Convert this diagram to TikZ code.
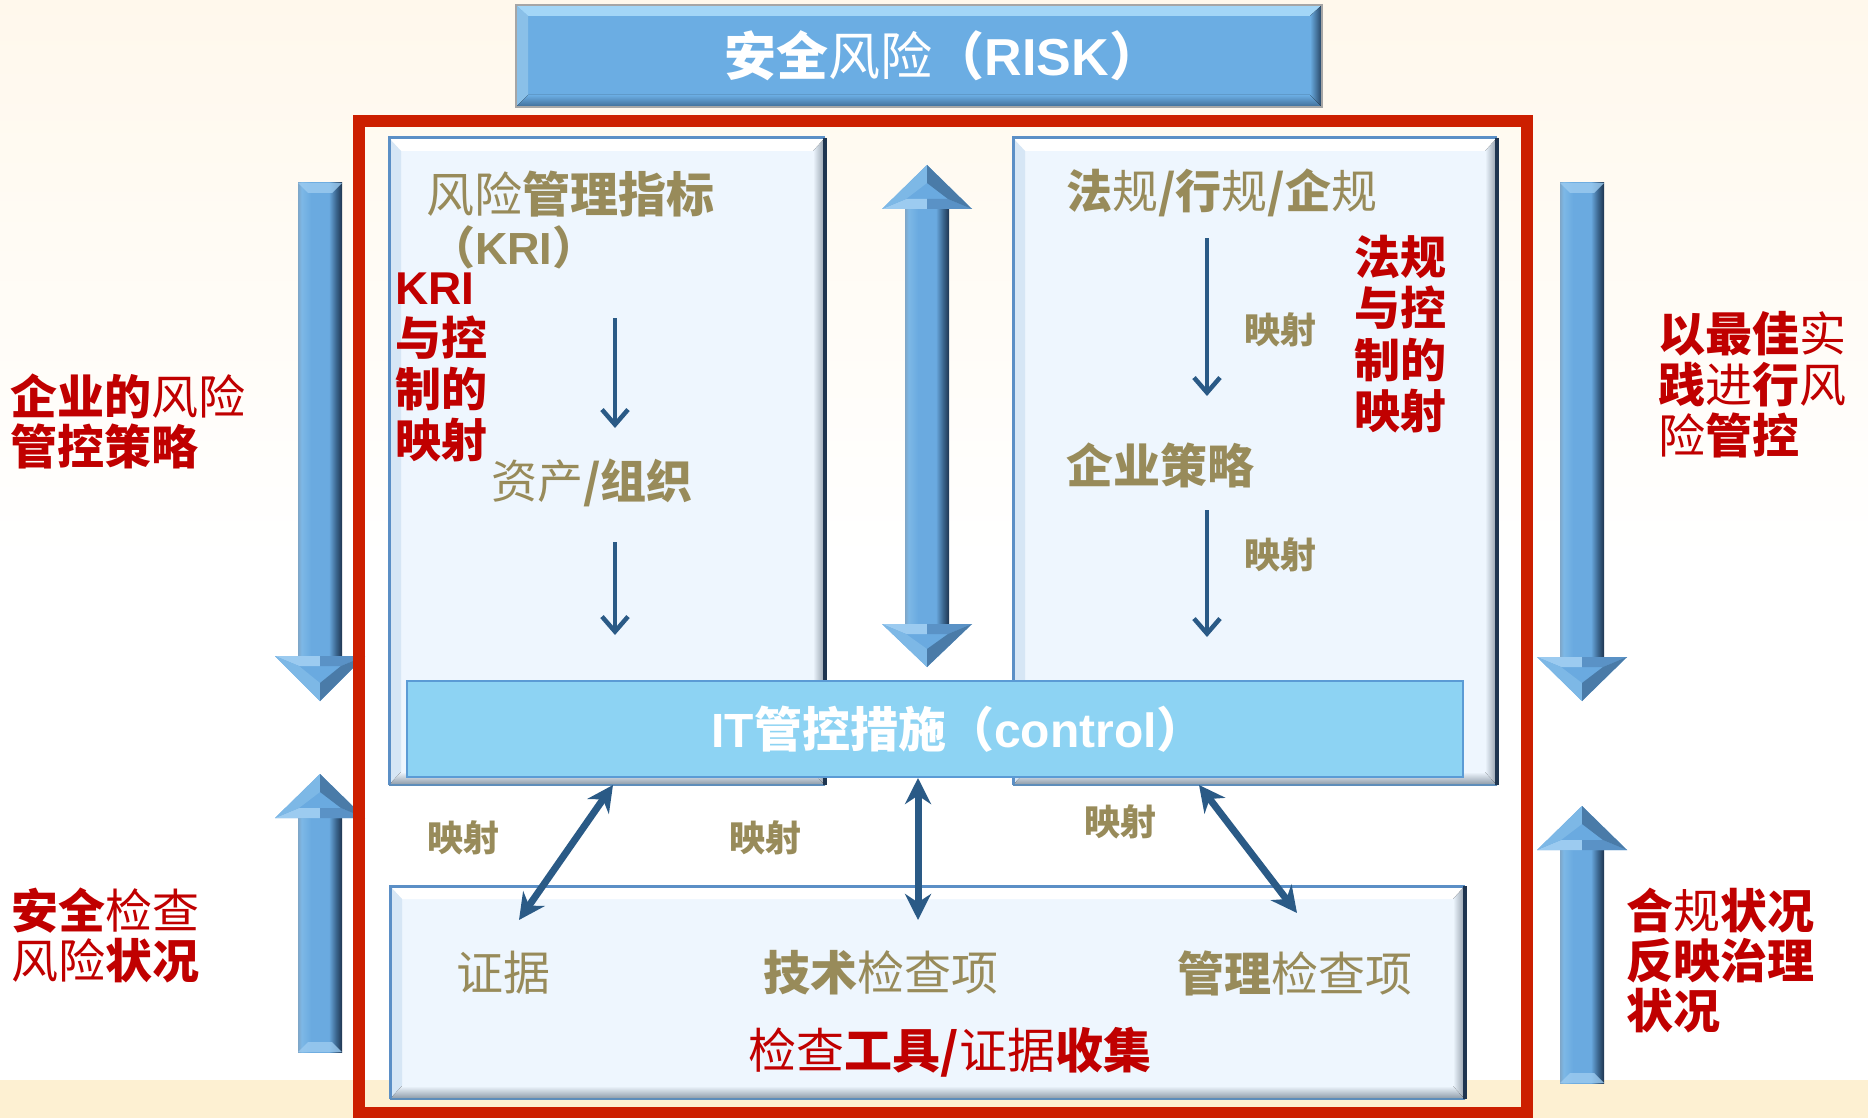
\documentclass[tikz,border=0pt]{standalone}
\usepackage{fontspec}
\setmainfont{Noto Sans CJK SC}
\newfontfamily\lat{Liberation Sans}
\usetikzlibrary{arrows.meta}

\definecolor{txtolive}{HTML}{988B5A}
\definecolor{txtred}{HTML}{C00000}
\definecolor{framered}{HTML}{CC1F00}
\definecolor{arrmain}{HTML}{6AAAE0}
\definecolor{arrlite}{HTML}{9CCBF0}
\definecolor{arrmidl}{HTML}{7DB8E6}
\definecolor{arrmidd}{HTML}{5A92C6}
\definecolor{arrface}{HTML}{4A7BA8}
\definecolor{arrdark}{HTML}{3C6790}
\definecolor{arrdeep}{HTML}{1E3550}
\definecolor{arrleft}{HTML}{7EA6C8}
\definecolor{thinblue}{HTML}{2A5A86}
\definecolor{boxfill}{HTML}{EEF6FE}
\definecolor{boxleft}{HTML}{D6E6F5}
\definecolor{boxbot}{HTML}{8A97A4}
\definecolor{boxright}{HTML}{8F9BA8}
\definecolor{boxedgeA}{HTML}{5B8FC6}
\definecolor{boxedgeB}{HTML}{5E8DBA}
\definecolor{boxedgeC}{HTML}{1F3550}
\definecolor{itfill}{HTML}{8DD3F3}
\definecolor{itborder}{HTML}{5B9BD5}
\definecolor{bannerfill}{HTML}{6BADE3}
\definecolor{bannertop}{HTML}{A3D6F7}
\definecolor{bannerleft}{HTML}{8AC0E8}
\definecolor{bannerbot}{HTML}{3F6C96}
\definecolor{bannerright}{HTML}{24405E}
\definecolor{bgtop}{HTML}{FFF8EC}
\definecolor{bgband}{HTML}{FDF0D2}

\newcommand\lightc[1]{{\mdseries #1}}

\pgfdeclarehorizontalshading{shaftshade}{100bp}{color(0bp)=(arrleft); color(25bp)=(arrleft); color(29bp)=(arrmidl); color(40bp)=(arrmain); color(60bp)=(arrmain); color(68bp)=(arrdark); color(75bp)=(arrdeep); color(100bp)=(arrdeep)}

% head: #1 cx, #2 base y, #3 tip y, #4 sign
\newcommand\arrowHead[4]{%
  \fill[arrmain] ({#1-45},{#2}) -- ({#1+45},{#2}) -- ({#1},{#3}) -- cycle;
  \fill[arrlite] ({#1-45},{#2}) -- ({#1},{#2}) -- ({#1},{#2+(#4)*10}) -- ({#1-21},{#2+(#4)*10}) -- cycle;
  \fill[arrmidd] ({#1},{#2}) -- ({#1+45},{#2}) -- ({#1+21},{#2+(#4)*10}) -- ({#1},{#2+(#4)*10}) -- cycle;
  \fill[arrmidl] ({#1-45},{#2}) -- ({#1-21},{#2+(#4)*10}) -- ({#1},{#3-(#4)*18}) -- ({#1},{#3}) -- cycle;
  \fill[arrface] ({#1+45},{#2}) -- ({#1},{#3}) -- ({#1},{#3-(#4)*18}) -- ({#1+21},{#2+(#4)*10}) -- cycle;
}
% arrow: #1 cx, #2 tail y, #3 base y, #4 tip y, #5 sign
\newcommand\bigArrow[5]{%
  \fill[shading=shaftshade] ({#1-22},{#2}) rectangle ({#1+22},{#3});
  \fill[arrlite, opacity=.8] ({#1-22},{#2}) -- ({#1+22},{#2}) -- ({#1+12},{#2+(#5)*10}) -- ({#1-12},{#2+(#5)*10}) -- cycle;
  \arrowHead{#1}{#3}{#4}{#5}%
}
% bevelled box: x1 y1 x2 y2
\newcommand\bevelBox[4]{%
  \fill[boxfill] (#1,#2) rectangle (#3,#4);
  \fill[white] ({#1},{#2}) -- ({#3},{#2}) -- ({#3-12},{#2+13}) -- ({#1+12},{#2+13}) -- cycle;
  \fill[boxleft] ({#1},{#2}) -- ({#1+12},{#2+13}) -- ({#1+12},{#4-13}) -- ({#1},{#4}) -- cycle;
  \fill[top color=boxfill, bottom color=boxbot] ({#1},{#4}) -- ({#1+12},{#4-13}) -- ({#3-12},{#4-13}) -- ({#3},{#4}) -- cycle;
  \fill[left color=boxfill, right color=boxright] ({#3},{#2}) -- ({#3},{#4}) -- ({#3-12},{#4-13}) -- ({#3-12},{#2+13}) -- cycle;
  \draw[boxedgeA, line width=3pt] (#1,#4) -- (#1,#2) -- (#3,#2);
  \draw[boxedgeB, line width=2.5pt] (#1,#4) -- (#3,#4);
  \draw[boxedgeC, line width=3.5pt] (#3,#2) -- (#3,#4);
}

\begin{document}
\begin{tikzpicture}[x=1pt,y=-1pt,
  txt/.style={inner sep=0pt, outer sep=0pt},
  oliveT/.style={txt, text=txtolive, font=\fontsize{47}{50}\selectfont\bfseries},
  mapT/.style={txt, text=txtolive, font=\fontsize{36}{40}\selectfont\bfseries},
  redT/.style={txt, text=txtred, align=left, font=\fontsize{47}{50}\selectfont\bfseries},
  thinarr/.style={draw=thinblue, line width=4pt, -{Straight Barb[length=15pt,width=26pt,line width=4.5pt]}},
  dblarr/.style={draw=thinblue, line width=7pt, {Stealth[length=26pt,width=26pt]}-{Stealth[length=26pt,width=26pt]}}]
\useasboundingbox (0,0) rectangle (1868,1118);

% background
\fill[top color=bgtop, bottom color=white] (0,0) rectangle (1868,560);
\fill[white] (0,559) rectangle (1868,1081);
\fill[bgband] (0,1080) rectangle (1868,1118);

% side arrows
\bigArrow{320}{183}{656}{701}{1}
\bigArrow{320}{1052}{818}{774}{-1}
\bigArrow{1582}{183}{657}{701}{1}
\bigArrow{1582}{1083}{850}{806}{-1}

% red frame
\draw[framered, line width=12pt] (359,121) rectangle (1527,1113);

% banner
\fill[bannerfill] (516,5) rectangle (1322,107);
\fill[bannertop] (516,5) -- (1322,5) -- (1310,16) -- (528,16) -- cycle;
\fill[bannerleft] (516,5) -- (528,16) -- (528,95) -- (516,107) -- cycle;
\fill[top color=bannerfill, bottom color=bannerbot] (516,107) -- (528,95) -- (1310,95) -- (1322,107) -- cycle;
\fill[left color=bannerfill, right color=bannerright] (1322,5) -- (1322,107) -- (1310,95) -- (1310,16) -- cycle;
\draw[gray!70, line width=1.5pt] (516,5) rectangle (1322,107);
\node[txt, text=white, font=\fontsize{52}{56}\selectfont\bfseries] (risk) at (943,56) {安全\lightc{风险}（{\lat RISK}）};

% upper boxes
\bevelBox{389}{138}{825}{785}
\bevelBox{1013}{138}{1497}{785}

% middle double arrow
\fill[shading=shaftshade] (905,207) rectangle (949,626);
\arrowHead{927}{209}{165}{-1}
\arrowHead{927}{624}{667}{1}

% IT box
\node[draw=itborder, fill=itfill, line width=2.5pt, minimum width=1056pt, minimum height=96pt, inner sep=0pt] (itbox) at (935,729) {};
\node[txt, text=white, font=\fontsize{48}{52}\selectfont\bfseries] (ittxt) at (958,729) {{\lat IT}管控措施（{\lat control}）};

% bottom box
\bevelBox{390}{886}{1465}{1099}

% left box texts
\node[oliveT, font=\fontsize{48}{50}\selectfont\bfseries, anchor=west] (kri) at (426,194) {\lightc{风险}管理指标};
\node[oliveT, font=\fontsize{45}{50}\selectfont\bfseries, anchor=west] (krip) at (430,247) {（{\lat KRI}）};
\node[redT, font=\fontsize{46}{51}\selectfont\bfseries, anchor=north west] (krimap) at (395,273) {{\lat KRI}\\与控\\制的\\映射};
\node[oliveT, font=\fontsize{46}{50}\selectfont\bfseries, anchor=west] (asset) at (491,483) {\lightc{资产}/组织};

% right box texts
\node[oliveT, font=\fontsize{46}{50}\selectfont\bfseries, anchor=west] (law) at (1066,193) {法\lightc{规}/行\lightc{规}/企\lightc{规}};
\node[redT, font=\fontsize{46}{51.5}\selectfont\bfseries, anchor=north west] (lawmap) at (1354,235) {法规\\与控\\制的\\映射};
\node[oliveT, anchor=west] (ent) at (1066,465) {企业策略};
\node[mapT] (m1) at (1280,330) {映射};
\node[mapT] (m2) at (1280,555) {映射};

% thin arrows
\coordinate (a1s) at (615,318); \coordinate (a1e) at (615,428);
\coordinate (a2s) at (615,542); \coordinate (a2e) at (615,635);
\coordinate (a3s) at (1207,238); \coordinate (a3e) at (1207,396);
\coordinate (a4s) at (1207,510); \coordinate (a4e) at (1207,637);
\draw[thinarr] (a1s) -- (a1e);
\draw[thinarr] (a2s) -- (a2e);
\draw[thinarr] (a3s) -- (a3e);
\draw[thinarr] (a4s) -- (a4e);

% lower double arrows
\coordinate (d1a) at (613,785); \coordinate (d1b) at (519,920);
\coordinate (d2a) at (918,778); \coordinate (d2b) at (918,920);
\coordinate (d3a) at (1199,785); \coordinate (d3b) at (1297,913);
\draw[dblarr] (d1a) -- (d1b);
\draw[dblarr] (d2a) -- (d2b);
\draw[dblarr] (d3a) -- (d3b);
\node[mapT] (m3) at (463,838) {映射};
\node[mapT] (m4) at (765,838) {映射};
\node[mapT] (m5) at (1120,822) {映射};

% bottom box texts
\node[oliveT] (ev) at (503,973) {\lightc{证据}};
\node[oliveT] (tech) at (881,973) {技术\lightc{检查项}};
\node[oliveT] (mgmt) at (1295,973) {管理\lightc{检查项}};
\node[txt, text=txtred, font=\fontsize{48}{50}\selectfont\bfseries] (tool) at (950,1052) {\lightc{检查}工具/\lightc{证据}收集};

% side texts
\node[redT, anchor=north west] (lt) at (10,374) {企业的\lightc{风险}\\管控策略};
\node[redT, anchor=north west] (lb) at (11,888) {安全\lightc{检查}\\\lightc{风险}状况};
\node[redT, font=\fontsize{47}{51}\selectfont\bfseries, anchor=north west] (rt) at (1658,311) {以最佳\lightc{实}\\践\lightc{进}行\lightc{风}\\\lightc{险}管控};
\node[redT, anchor=north west] (rb) at (1626,888) {合\lightc{规}状况\\反映治理\\状况};
\end{tikzpicture}
\end{document}
